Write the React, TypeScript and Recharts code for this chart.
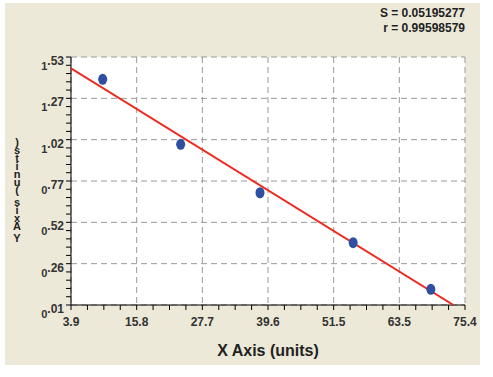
import { ScatterChart, Scatter, XAxis, YAxis, CartesianGrid } from 'recharts'

const xLabels = ['3.9', '15.8', '27.7', '39.6', '51.5', '63.5', '75.4']
const yLabels = ['0.01', '0.26', '0.52', '0.77', '1.02', '1.27', '1.53']
const xDomain = [3.9, 75.4]
const yDomain = [0.01, 1.53]

const pointX = [9.65, 23.8, 38.2, 55.1, 69.2]
const pointY = [1.393, 0.995, 0.698, 0.392, 0.106]

const fitX = [3.9, 73.3]
const fitY = [1.461, 0.01]

const statLines = ['S = 0.05195277', 'r = 0.99598579']
const xTitle = 'X Axis (units)'
const yTitle = 'Y Axis (units)'

const points = pointX.map((x, i) => ({ x, y: pointY[i] }))
const fit = fitX.map((x, i) => ({ x, y: fitY[i] }))

const ticksFor = (domain: number[], majors: number, subs: number) => {
    const step = (domain[1] - domain[0]) / (majors * subs)
    return Array.from({ length: majors * subs + 1 }, (_, i) => +(domain[0] + i * step).toFixed(6))
}
const xTicks = ticksFor(xDomain, 6, 4)
const yTicks = ticksFor(yDomain, 6, 5)
const xMajor = xTicks.filter((_, i) => i % 4 === 0)
const yMajor = yTicks.filter((_, i) => i % 5 === 0)

const font = '"Liberation Sans", Arial, sans-serif'

const XTick = ({ x, y, payload }: any) => {
    const idx = xMajor.indexOf(payload.value)
    if (idx < 0) return <g />
    return (
        <text x={x} y={y + 14} textAnchor="middle" fontSize={12} fontWeight="bold" fill="#333" fontFamily={font}>
            {xLabels[idx]}
        </text>
    )
}

const YTick = ({ x, y, payload }: any) => {
    const idx = yMajor.indexOf(payload.value)
    if (idx < 0) return <g />
    const [whole, dec] = yLabels[idx].split('.')
    return (
        <text x={x} y={y + 13} textAnchor="end" fontSize={11} fontWeight="bold" fill="#333" fontFamily={font}>
            <tspan>{whole}</tspan>
            <tspan dy={-5} fontSize={12}>{'.' + dec}</tspan>
        </text>
    )
}

const Dot = ({ cx, cy }: any) => <ellipse cx={cx} cy={cy} rx={4.5} ry={5.5} fill="#2F4FA2" />

// grid only on the major ticks
const vGrid = ({ offset }: any) =>
    xMajor.map((v) => offset.left + ((v - xDomain[0]) / (xDomain[1] - xDomain[0])) * offset.width)
const hGrid = ({ offset }: any) =>
    yMajor.map((v) => offset.top + ((yDomain[1] - v) / (yDomain[1] - yDomain[0])) * offset.height)

export default function App() {
    return (
        <div style={{ position: 'absolute', left: 0, top: 0, width: 493, height: 377, background: '#fff', fontFamily: font }}>
            <div style={{ position: 'absolute', left: 5, top: 3, width: 475, height: 362, background: '#ECE9D8' }} />
            <div style={{ position: 'absolute', right: 28, top: 6, textAlign: 'right', fontSize: 12, fontWeight: 'bold', color: '#222', lineHeight: '15px' }}>
                {statLines.map((s) => (
                    <div key={s}>{s}</div>
                ))}
            </div>
            <div style={{ position: 'absolute', left: 11, top: 138, width: 12, display: 'flex', flexDirection: 'column-reverse', alignItems: 'center', fontSize: 11, fontWeight: 'bold', color: '#222' }}>
                {yTitle.split('').map((c, i) => (
                    <div
                        key={i}
                        style={{ height: c === ' ' ? 4 : 8, lineHeight: c === ' ' ? '4px' : '8px', textAlign: 'center' }}
                    >
                        {c}
                    </div>
                ))}
            </div>
            <div style={{ position: 'absolute', left: 71, width: 394, top: 342, textAlign: 'center', fontSize: 16, fontWeight: 'bold', color: '#222' }}>
                {xTitle}
            </div>
            <div style={{ position: 'absolute', left: 0, top: 0 }}>
                <ScatterChart width={493} height={377} margin={{ top: 57, right: 28, bottom: 42, left: 11 }}>
                    <CartesianGrid
                        stroke="#999"
                        strokeDasharray="6 4"
                        fill="#fff"
                        verticalCoordinatesGenerator={vGrid}
                        horizontalCoordinatesGenerator={hGrid}
                    />
                    <XAxis
                        type="number"
                        dataKey="x"
                        domain={xDomain}
                        ticks={xTicks}
                        interval={0}
                        allowDataOverflow
                        height={30}
                        tickSize={5}
                        tickMargin={2}
                        stroke="#000"
                        tick={<XTick />}
                    />
                    <XAxis xAxisId="top" orientation="top" type="number" domain={xDomain} height={0} tick={false} tickLine={false} stroke="#000" />
                    <YAxis
                        type="number"
                        dataKey="y"
                        domain={yDomain}
                        ticks={yTicks}
                        interval={0}
                        allowDataOverflow
                        width={60}
                        tickSize={5}
                        tickMargin={2}
                        stroke="#000"
                        tick={<YTick />}
                    />
                    <YAxis yAxisId="right" orientation="right" type="number" domain={yDomain} width={0} tick={false} tickLine={false} stroke="#000" />
                    <Scatter data={fit} line={{ stroke: '#EE2A1E', strokeWidth: 2 }} shape={() => <g />} isAnimationActive={false} />
                    <Scatter data={points} shape={<Dot />} isAnimationActive={false} />
                </ScatterChart>
            </div>
        </div>
    )
}
